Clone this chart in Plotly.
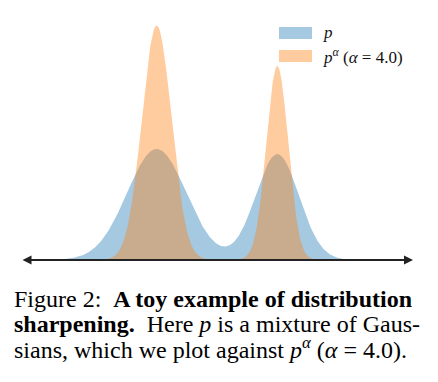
import numpy as np
import plotly.graph_objects as go

# Gaussian mixture
means = [-1.0, 1.0]
sigmas = [0.49, 0.36]
weights = [0.588, 0.412]
alpha = 4.0
x_range = [-3.25, 3.25]
legend_labels = ["<i>p</i>", "<i>p</i><sup><i>α</i></sup> (<i>α</i> = 4.0)"]
caption_lines = [
    "Figure 2:  <b>A toy example of distribution</b>",
    "<b>sharpening.</b>  Here <i>p</i> is a mixture of Gaus-",
    "sians, which we plot against <i>p</i><sup><i>α</i></sup> (<i>α</i> = 4.0).",
]

x = np.linspace(x_range[0], x_range[1], 1201)
p = np.zeros_like(x)
for m, s, w in zip(means, sigmas, weights):
    p += w * np.exp(-0.5 * ((x - m) / s) ** 2) / (s * np.sqrt(2 * np.pi))
pa = p ** alpha
pa = pa / np.trapezoid(pa, x)

W, H = 438, 382
L, R, T, B = 21, 25, 10, 122
pw, ph = W - L - R, H - T - B


def px(xp):
    return (xp - L) / pw


def py(yp):
    return (H - B - yp) / ph


blue = "rgba(31,119,180,0.4)"
orange = "rgba(255,127,14,0.4)"

fig = go.Figure()
fig.add_trace(go.Scatter(x=x, y=p, mode="lines", fill="tozeroy",
                         line=dict(width=0, color=blue), fillcolor=blue,
                         name="p", showlegend=False, hoverinfo="skip"))
fig.add_trace(go.Scatter(x=x, y=pa, mode="lines", fill="tozeroy",
                         line=dict(width=0, color=orange), fillcolor=orange,
                         name="p^alpha", showlegend=False, hoverinfo="skip"))

shapes = [
    dict(type="rect", xref="paper", yref="paper", x0=px(279), x1=px(312), y0=py(39), y1=py(27),
         fillcolor=blue, line=dict(width=0)),
    dict(type="rect", xref="paper", yref="paper", x0=px(279), x1=px(312), y0=py(62), y1=py(50),
         fillcolor=orange, line=dict(width=0)),
]

serif = "Liberation Serif"
ann = [
    dict(x=x_range[1], y=0, ax=x_range[0], ay=0, xref="x", yref="y", axref="x", ayref="y",
         text="", showarrow=True, arrowhead=2, startarrowhead=2, arrowside="end+start",
         arrowsize=1, startarrowsize=1, arrowwidth=1.8, arrowcolor="#222222"),
]
for lab, yc in zip(legend_labels, [33, 56]):
    ann.append(dict(x=px(321), y=py(yc), xref="paper", yref="paper", xanchor="left",
                    yanchor="middle", text=lab, showarrow=False,
                    font=dict(family=serif, size=17, color="#111")))
for line, yc in zip(caption_lines, [299, 323.5, 348]):
    ann.append(dict(x=px(12), y=py(yc), xref="paper", yref="paper", xanchor="left",
                    yanchor="middle", align="left", showarrow=False, text=line,
                    font=dict(family=serif, size=24, color="#000")))

fig.update_layout(
    width=W, height=H, margin=dict(l=L, r=R, t=T, b=B),
    paper_bgcolor="white", plot_bgcolor="white",
    xaxis=dict(range=x_range, visible=False),
    yaxis=dict(range=[0, 1.078], visible=False),
    shapes=shapes, annotations=ann, showlegend=False, hovermode=False,
)
fig.write_html("out.html", config={"displayModeBar": False},
               post_script="document.body.style.margin='0';")
